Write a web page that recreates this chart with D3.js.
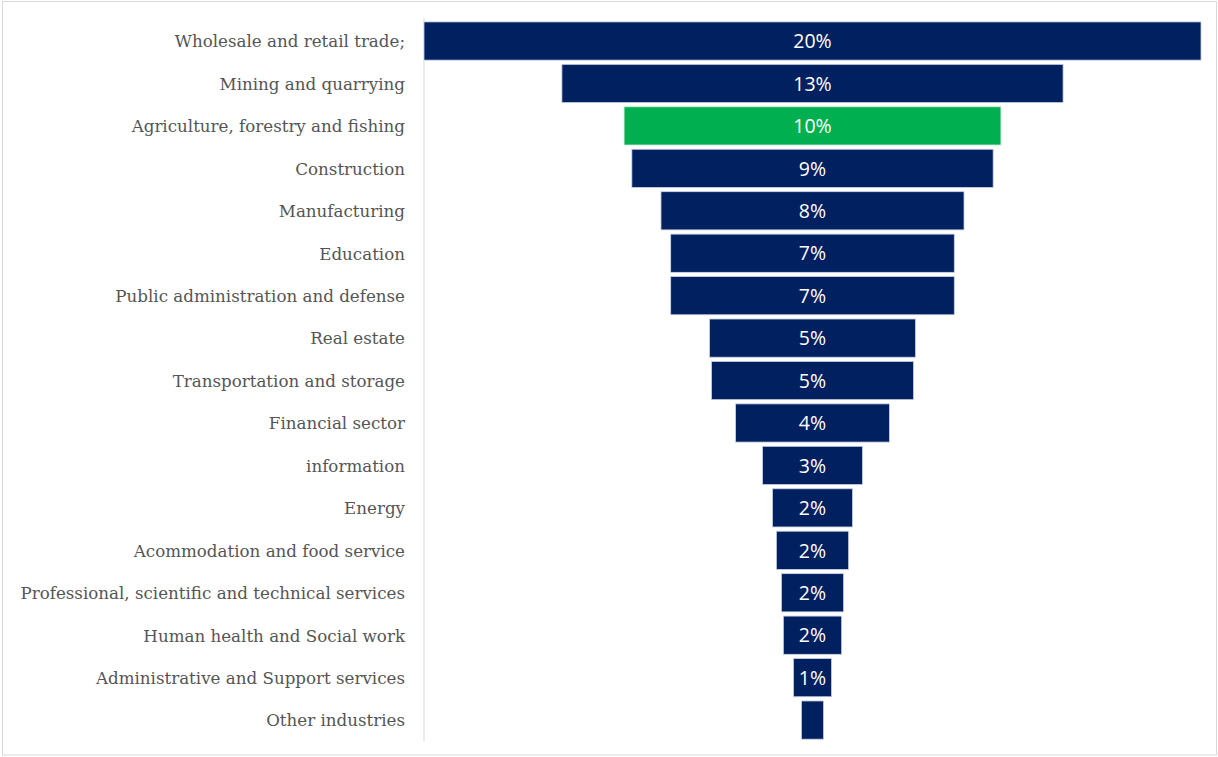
<!DOCTYPE html>
<html>
<head>
<meta charset="utf-8">
<script src="https://cdn.jsdelivr.net/npm/d3@7"></script>
<style>
  html, body { margin: 0; padding: 0; background: #fff; }
  svg { display: block; }
</style>
</head>
<body>
<svg id="chart" width="1218" height="757"></svg>
<script>
// Share of each industry, in percent
const industries = [
  "Wholesale and retail trade;",
  "Mining and quarrying",
  "Agriculture, forestry and fishing",
  "Construction",
  "Manufacturing",
  "Education",
  "Public administration and defense",
  "Real estate",
  "Transportation and storage",
  "Financial sector",
  "information",
  "Energy",
  "Acommodation and food service",
  "Professional, scientific and technical services",
  "Human health and Social work",
  "Administrative and Support services",
  "Other industries"
];
const shares = [20.0, 12.9, 9.7, 9.3, 7.8, 7.3, 7.3, 5.3, 5.2, 3.96, 2.57, 2.06, 1.86, 1.6, 1.5, 0.98, 0.57];
const highlighted = ["Agriculture, forestry and fishing"];

const W = 1218, H = 757;
const plot = { left: 424, right: 1201, top: 19.8, bottom: 741.3 };
const minLabelWidth = 30; // value labels are left off bars narrower than this

const svg = d3.select("#chart");

// outer frame
svg.append("rect")
  .attr("x", 2.5).attr("y", 1.5)
  .attr("width", W - 4).attr("height", H - 3.5)
  .attr("fill", "#fff")
  .attr("stroke", "#d9d9d9")
  .attr("stroke-width", 1);

const data = industries.map((name, i) => ({ name, value: shares[i] }));

const y = d3.scaleBand()
  .domain(industries)
  .range([plot.top, plot.bottom])
  .paddingInner(0.1)
  .paddingOuter(0.05);

const w = d3.scaleLinear()
  .domain([0, d3.max(shares)])
  .range([0, plot.right - plot.left]);

const cx = (plot.left + plot.right) / 2;
const fmt = v => d3.format(".0%")(v / 100);

// category axis
const yAxis = d3.axisLeft(y).tickSize(0).tickPadding(19);
const gAxis = svg.append("g")
  .attr("transform", `translate(${plot.left},0)`)
  .call(yAxis);
gAxis.select(".domain")
  .attr("stroke", "#d9d9d9")
  .attr("d", `M0,${plot.top - 2}V${plot.bottom}`);
gAxis.selectAll(".tick text")
  .attr("fill", "#555555")
  .attr("dy", "0.38em")
  .style("font-family", "'DejaVu Serif', serif")
  .style("font-size", "16.7px");

// funnel bars, centred on the plot
svg.append("g").selectAll("rect")
  .data(data)
  .join("rect")
  .attr("x", d => cx - w(d.value) / 2)
  .attr("y", d => y(d.name))
  .attr("width", d => w(d.value))
  .attr("height", y.bandwidth())
  .attr("fill", d => highlighted.includes(d.name) ? "#00b050" : "#002060")
  .attr("stroke", d => highlighted.includes(d.name) ? "#c8ecd6" : "#c9d0e2")
  .attr("stroke-width", 0.8);

// value labels
svg.append("g").selectAll("text")
  .data(data.filter(d => w(d.value) >= minLabelWidth))
  .join("text")
  .attr("x", cx)
  .attr("y", d => y(d.name) + y.bandwidth() / 2)
  .attr("dy", "0.37em")
  .attr("text-anchor", "middle")
  .attr("fill", "#ffffff")
  .style("font-family", "'Open Sans', sans-serif")
  .style("font-size", "19.5px")
  .text(d => fmt(d.value));
</script>
</body>
</html>
